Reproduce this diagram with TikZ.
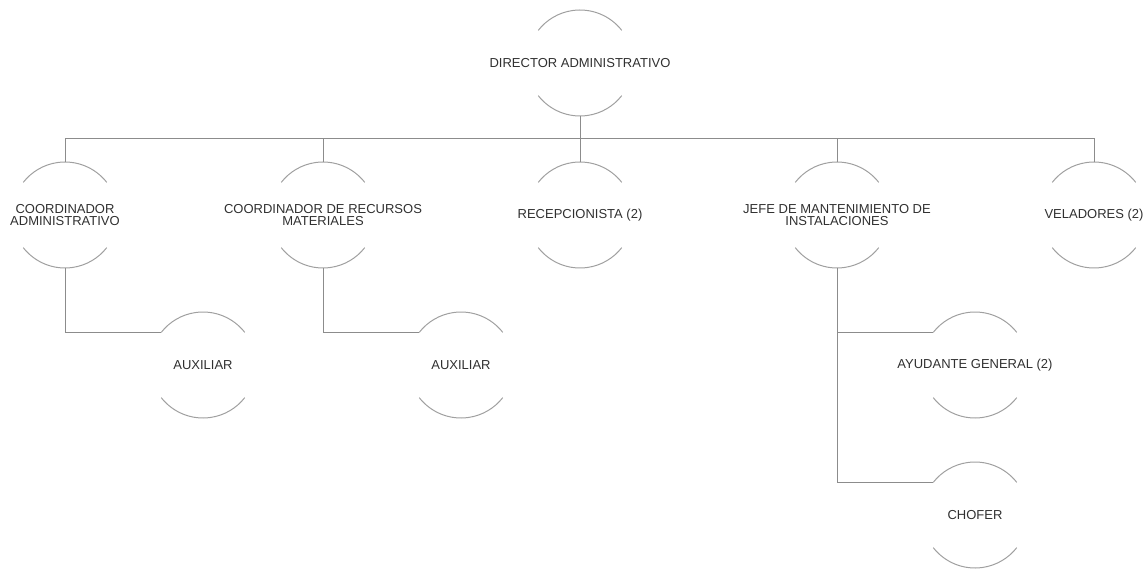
\documentclass[tikz,border=0pt]{standalone}
\usepackage{fontspec}
\setmainfont{Liberation Sans}
\definecolor{arcgray}{HTML}{A0A0A0}
\definecolor{linegray}{HTML}{8C8C8C}
\definecolor{txtgray}{HTML}{303030}
\begin{document}
\begin{tikzpicture}[x=1pt,y=-1pt,
  unit/.style={circle,minimum size=106pt,inner sep=0pt,outer sep=0pt},
  lbl/.style={align=center,inner sep=0pt,text=txtgray,font=\fontsize{13}{11.5}\selectfont},
  arcline/.style={draw=arcgray,line width=1pt},
  conn/.style={draw=linegray,line width=1pt}]
\useasboundingbox (0,0) rectangle (1148,569);
\node[unit,label={[lbl]center:DIRECTOR ADMINISTRATIVO}] (dir) at (580,63) {};
\node[unit,label={[lbl]center:COORDINADOR\\ADMINISTRATIVO}] (cadm) at (65,215) {};
\node[unit,label={[lbl]center:COORDINADOR DE RECURSOS\\MATERIALES}] (crm) at (323,215) {};
\node[unit,label={[lbl]center:RECEPCIONISTA (2)}] (rec) at (580,215) {};
\node[unit,label={[lbl]center:JEFE DE MANTENIMIENTO DE\\INSTALACIONES}] (jefe) at (837,215) {};
\node[unit,label={[lbl]center:VELADORES (2)}] (vel) at (1094,215) {};
\node[unit,label={[lbl]center:AUXILIAR}] (aux1) at (203,365) {};
\node[unit,label={[lbl]center:AUXILIAR}] (aux2) at (461,365) {};
\node[unit,label={[lbl]center:AYUDANTE GENERAL (2)}] (ayu) at (975,365) {};
\node[unit,label={[lbl]center:CHOFER}] (cho) at (975,515) {};
\foreach \n in {dir,cadm,crm,rec,jefe,vel,aux1,aux2,ayu,cho}{
  \draw[arcline] (\n.38) arc[start angle=38,end angle=142,radius=53pt];
  \draw[arcline] (\n.218) arc[start angle=218,end angle=322,radius=53pt];
}
\coordinate (bus) at (580,139);
\draw[conn] (dir.south) -- (bus);
\draw[conn] (bus) -- (rec.north);
\foreach \n in {cadm,crm,jefe,vel}{
  \draw[conn] (bus) -| (\n.north);
}
\draw[conn] (cadm.south) |- (aux1.142);
\draw[conn] (crm.south) |- (aux2.142);
\draw[conn] (jefe.south) |- (ayu.142);
\draw[conn] (jefe.south) |- (cho.142);
\end{tikzpicture}
\end{document}
